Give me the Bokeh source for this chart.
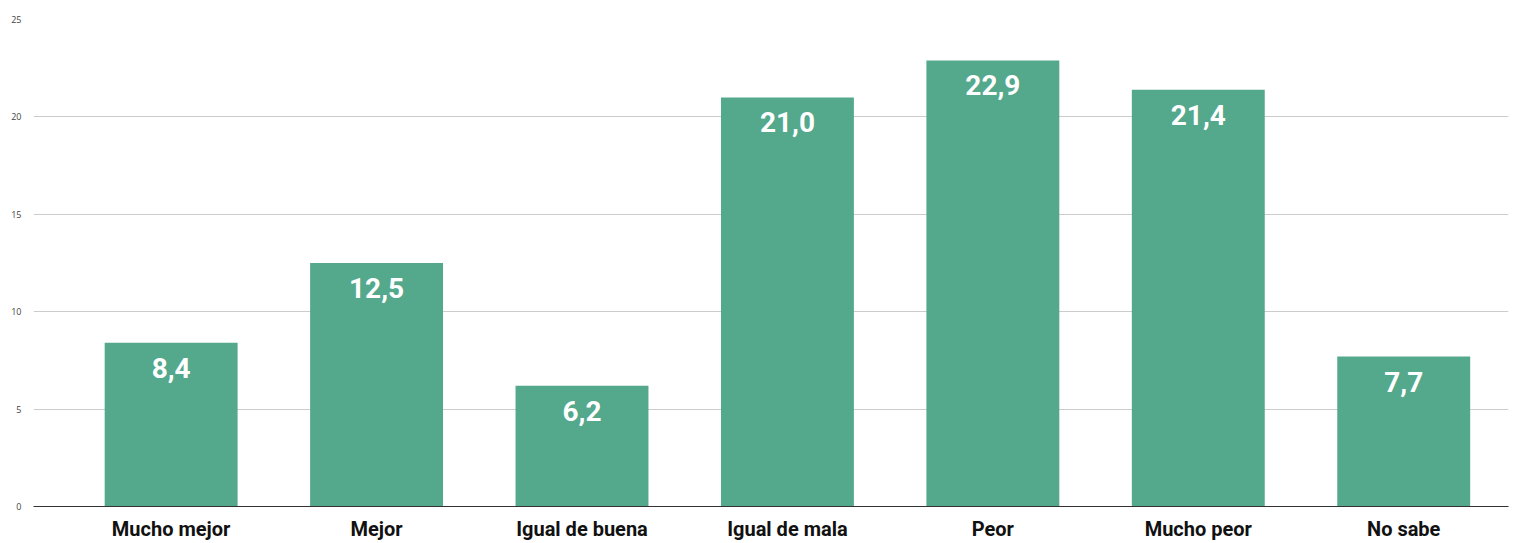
from bokeh.plotting import figure
from bokeh.models import ColumnDataSource, FixedTicker
from bokeh.core.properties import value
from bokeh.embed import file_html
from bokeh.resources import INLINE

categories = ["Mucho mejor", "Mejor", "Igual de buena", "Igual de mala", "Peor", "Mucho peor", "No sabe"]
values = [8.4, 12.5, 6.2, 21.0, 22.9, 21.4, 7.7]
labels = ["8,4", "12,5", "6,2", "21,0", "22,9", "21,4", "7,7"]
y_ticks = [0, 5, 10, 15, 20, 25]

xs = list(range(len(categories)))
src = ColumnDataSource(dict(x=xs, top=values, lab=labels))

p = figure(width=1522, height=543, output_backend="svg", toolbar_location=None,
           x_range=(-0.67, 6.51), y_range=(0, 25),
           min_border_left=33, min_border_right=14, min_border_top=19, min_border_bottom=37)
p.outline_line_color = None
p.background_fill_color = "white"

p.vbar(x="x", top="top", width=0.647, source=src, fill_color="#54a88c", line_color=None)
p.text(x="x", y="top", text="lab", source=src, text_align="center", text_baseline="top",
       y_offset=15, text_color="white", text_font_size="28px", text_font_style="bold",
       text_font=value("Roboto"))

p.xaxis.ticker = FixedTicker(ticks=xs)
p.xaxis.major_label_overrides = {i: c for i, c in enumerate(categories)}
p.xaxis.major_label_text_font = "Roboto"
p.xaxis.major_label_text_font_style = "bold"
p.xaxis.major_label_text_font_size = "20px"
p.xaxis.major_label_text_color = "#111111"
p.xaxis.major_tick_line_color = None
p.xaxis.minor_tick_line_color = None
p.xaxis.axis_line_color = "#333333"
p.xaxis.major_label_standoff = 4
p.xgrid.grid_line_color = None

p.yaxis.ticker = FixedTicker(ticks=y_ticks)
p.yaxis.axis_line_color = None
p.yaxis.major_tick_line_color = None
p.yaxis.minor_tick_line_color = None
p.yaxis.major_label_text_font_size = "9px"
p.yaxis.major_label_text_color = "#444444"
p.yaxis.major_label_text_font = "Open Sans"
p.yaxis.major_label_standoff = 6
p.ygrid.grid_line_color = "#cccccc"

open("out.html", "w").write(file_html(p, INLINE))
